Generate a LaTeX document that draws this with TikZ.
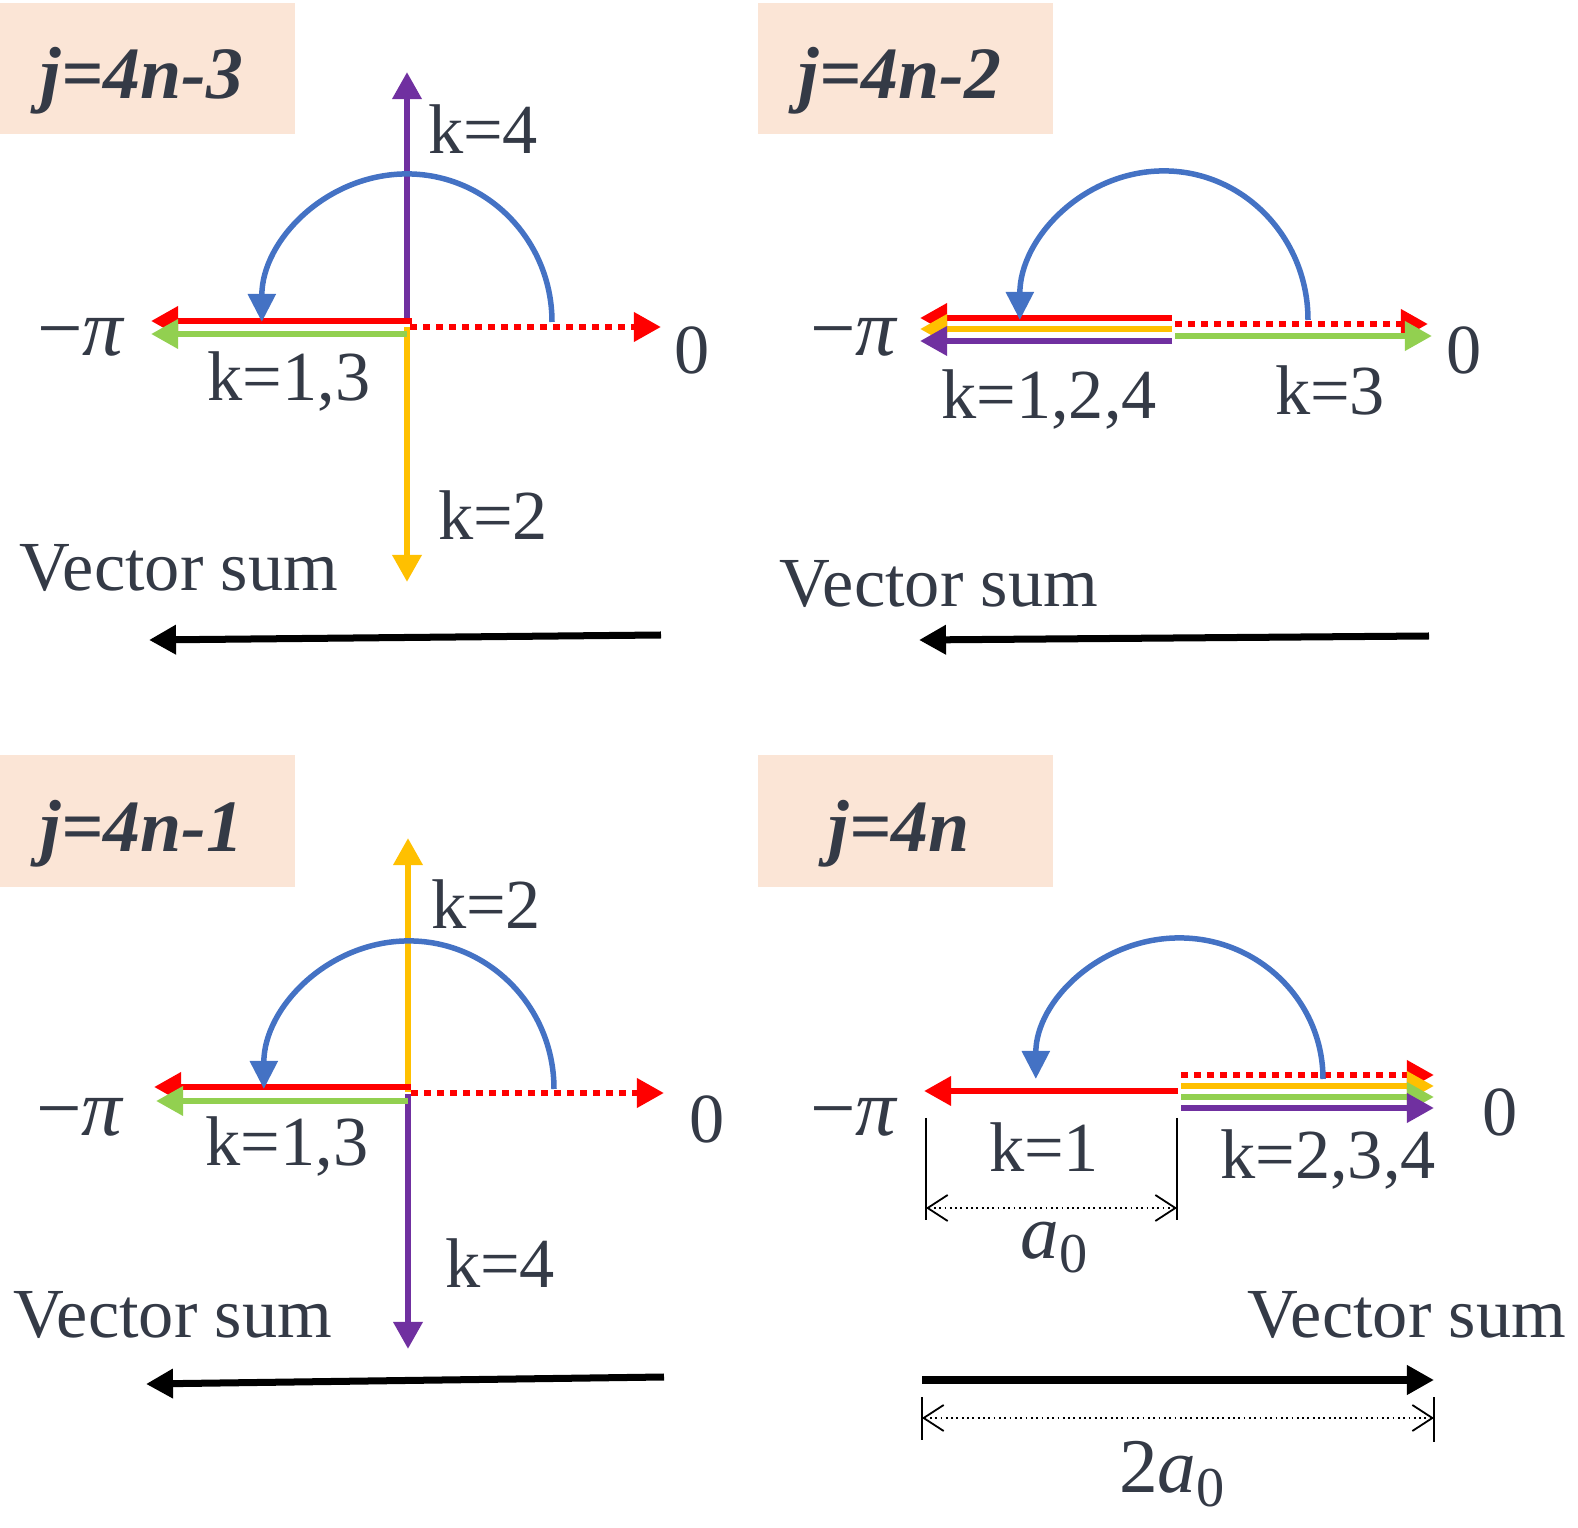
\documentclass[tikz,border=0pt]{standalone}
\usepackage{fontspec}
\setmainfont{Liberation Serif}
\usetikzlibrary{arrows.meta}

\definecolor{melocoton}{HTML}{FBE5D6}
\definecolor{gristexto}{RGB}{52,58,70}
\definecolor{rojo}{HTML}{FF0000}
\definecolor{verde}{HTML}{92D050}
\definecolor{amarillo}{HTML}{FFC000}
\definecolor{morado}{HTML}{7030A0}
\definecolor{azul}{HTML}{4472C4}

\tikzset{
  vector/.style={line width=0.065cm, -{Triangle[length=0.27cm,width=0.28cm]}},
  punteado/.style={vector, dash pattern=on 0.065cm off 0.065cm},
  giro/.style={azul, line width=0.055cm, -{Triangle[length=0.28cm,width=0.27cm]}},
  suma/.style={black, line width=0.07cm, -{Triangle[length=0.27cm,width=0.28cm]}},
  cota/.style={line width=0.018cm, densely dotted, {Straight Barb[length=0.2cm,width=0.26cm]}-{Straight Barb[length=0.2cm,width=0.26cm]}},
  marca/.style={line width=0.025cm},
  etiqueta/.style={text=gristexto, font=\fontsize{20}{24}\selectfont, inner sep=0pt},
  fase/.style={etiqueta, font=\fontsize{23}{27}\selectfont},
  titulo/.style={text=gristexto, font=\fontsize{21}{25}\selectfont\bfseries\itshape, inner sep=0pt}
}

\begin{document}
\begin{tikzpicture}[x=0.01cm, y=-0.01cm]
  \useasboundingbox (0,0) rectangle (1578,1528);

  % Caso j=4n-3
  \fill[melocoton] (0,3) rectangle (295,134);
  \node[titulo] (t1) at (142,81) {j=4n-3};
  \draw[vector, morado] (407,324) -- (407,72);
  \draw[vector, amarillo] (407,327) -- (407,582);
  \draw[vector, rojo] (412,321) -- (151,321);
  \draw[vector, verde] (407,334) -- (151,334);
  \draw[punteado, rojo] (410,327) -- (661,327);
  \draw[giro] (552,322) arc[start angle=0, end angle=180, x radius=1.45cm, y radius=1.48cm];
  \node[etiqueta] (p1-k4) at (483,129) {k=4};
  \node[etiqueta] (p1-k13) at (289,382) {k=1,3};
  \node[etiqueta] (p1-k2) at (493,515) {k=2};
  \node[fase] (p1-pi) at (81,337) {−\textit{π}};
  \node[etiqueta] (p1-cero) at (692,350) {0};
  \node[etiqueta] (p1-suma) at (179,568) {Vector sum};
  \draw[suma] (661,635) -- (149,640);

  % Caso j=4n-2
  \fill[melocoton] (758,3) rectangle (1053,134);
  \node[titulo] (t2) at (900,81) {j=4n-2};
  \draw[vector, rojo] (1172,318) -- (920,318);
  \draw[vector, amarillo] (1172,329) -- (920,329);
  \draw[vector, morado] (1172,341) -- (920,341);
  \draw[punteado, rojo] (1175,324) -- (1428,324);
  \draw[vector, verde] (1175,336) -- (1432,336);
  \draw[giro] (1308,320) arc[start angle=0, end angle=180, x radius=1.44cm, y radius=1.49cm];
  \node[fase] (p2-pi) at (854,337) {−\textit{π}};
  \node[etiqueta] (p2-cero) at (1464,350) {0};
  \node[etiqueta] (p2-k124) at (1049,400) {k=1,2,4};
  \node[etiqueta] (p2-k3) at (1330,390) {k=3};
  \node[etiqueta] (p2-suma) at (939,584) {Vector sum};
  \draw[suma] (1429,636) -- (919,640);

  % Caso j=4n-1
  \fill[melocoton] (0,755) rectangle (295,887);
  \node[titulo] (t3) at (142,834) {j=4n-1};
  \draw[vector, amarillo] (408,1092) -- (408,838);
  \draw[vector, morado] (408,1094) -- (408,1349);
  \draw[vector, rojo] (411,1087) -- (154,1087);
  \draw[vector, verde] (408,1101) -- (156,1101);
  \draw[punteado, rojo] (411,1093) -- (664,1093);
  \draw[giro] (554,1089) arc[start angle=0, end angle=180, x radius=1.45cm, y radius=1.48cm];
  \node[etiqueta] (p3-k2) at (486,904) {k=2};
  \node[etiqueta] (p3-k13) at (287,1147) {k=1,3};
  \node[etiqueta] (p3-k4) at (500,1263) {k=4};
  \node[fase] (p3-pi) at (80,1117) {−\textit{π}};
  \node[etiqueta] (p3-cero) at (707,1119) {0};
  \node[etiqueta] (p3-suma) at (173,1315) {Vector sum};
  \draw[suma] (664,1377) -- (146,1384);

  % Caso j=4n
  \fill[melocoton] (758,755) rectangle (1053,887);
  \node[titulo] (t4) at (899,834) {j=4n};
  \draw[vector, rojo] (1178,1091) -- (924,1091);
  \draw[punteado, rojo] (1181,1075) -- (1434,1075);
  \draw[vector, amarillo] (1181,1086) -- (1434,1086);
  \draw[vector, verde] (1181,1097) -- (1434,1097);
  \draw[vector, morado] (1181,1108) -- (1434,1108);
  \draw[giro] (1323,1079) arc[start angle=0, end angle=180, x radius=1.435cm, y radius=1.41cm];
  \node[fase] (p4-pi) at (854,1117) {−\textit{π}};
  \node[etiqueta] (p4-cero) at (1500,1112) {0};
  \node[etiqueta] (p4-k1) at (1044,1147) {k=1};
  \node[etiqueta] (p4-k234) at (1328,1160) {k=2,3,4};
  \draw[marca] (926,1118) -- (926,1220);
  \draw[marca] (1177,1118) -- (1177,1220);
  \draw[cota] (926,1208) -- (1177,1208);
  \node[etiqueta] (p4-a0) at (1054,1248) {\fontsize{22}{26}\selectfont\textit{a}\raisebox{-0.14cm}{\fontsize{16}{19}\selectfont 0}};
  \node[etiqueta] (p4-suma) at (1407,1315) {Vector sum};
  \draw[suma] (922,1380) -- (1434,1380);
  \draw[marca] (922,1397) -- (922,1440);
  \draw[marca] (1434,1397) -- (1434,1442);
  \draw[cota] (922,1418) -- (1434,1418);
  \node[etiqueta] (p4-2a0) at (1172,1474) {\fontsize{22}{26}\selectfont 2\textit{a}\raisebox{-0.14cm}{\fontsize{16}{19}\selectfont 0}};
\end{tikzpicture}
\end{document}
